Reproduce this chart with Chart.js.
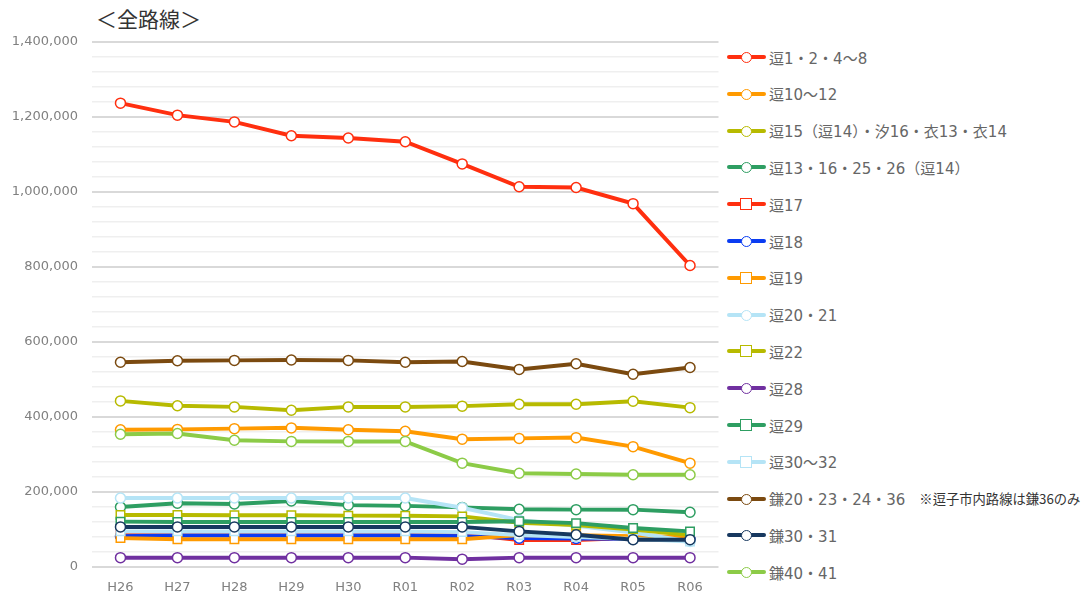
<!DOCTYPE html>
<html lang="ja">
<head>
<meta charset="utf-8">
<script src="https://cdn.jsdelivr.net/npm/chart.js@4.4.1/dist/chart.umd.min.js"></script>
<style>
  html, body { margin: 0; padding: 0; background: #fff; }
  body { width: 1081px; height: 595px; position: relative; overflow: hidden;
         font-family: "Noto Sans CJK JP", "Noto Sans", sans-serif; }
  #title { position: absolute; left: 96px; top: 3px; font-size: 21px; color: #333; }
  #wrap { position: absolute; left: 0; top: 0; width: 726px; height: 595px; }
  #legend { position: absolute; left: 727px; top: 0; width: 354px; }
  .item { position: absolute; left: 0; height: 20px; display: flex; align-items: center;
          font-size: 15px; color: #666; white-space: nowrap;
          font-family: "DejaVu Sans", "Noto Sans CJK JP", sans-serif; }
  .key { position: relative; width: 40px; height: 20px; margin-right: 2px; }
  .key .ln { position: absolute; left: 0; top: 8px; width: 39px; height: 4px; border-radius: 2px; }
  .key .mk { position: absolute; background: #fff; box-sizing: border-box; border-width: 1.5px; border-style: solid; }
  .note { margin-left: 14px; color: #333; font-size: 13.3px; font-family: "Noto Sans CJK JP", sans-serif; }
</style>
</head>
<body>
<div id="title">＜全路線＞</div>
<div id="wrap"><canvas id="chart"></canvas></div>
<div id="legend"></div>
<script>
// ─── DATA ───
const years = ['H26', 'H27', 'H28', 'H29', 'H30', 'R01', 'R02', 'R03', 'R04', 'R05', 'R06'];
const yTicks = [0, 200000, 400000, 600000, 800000, 1000000, 1200000, 1400000];

const zushi1 = [1237000, 1205000, 1187000, 1150000, 1144000, 1134000, 1075000, 1014000, 1012000, 969000, 804000];
const zushi10 = [366000, 367000, 369000, 371000, 366000, 362000, 341000, 343000, 345000, 321000, 277000];
const zushi15 = [443000, 430000, 427000, 418000, 427000, 427000, 429000, 434000, 434000, 442000, 425000];
const zushi13 = [160000, 170000, 168000, 176000, 165000, 163000, 159000, 154000, 153000, 153000, 146000];
const zushi17 = [88000, 89000, 89000, 89000, 89000, 89000, 88000, 72000, 72000, 78000, 76000];
const zushi18 = [82000, 84000, 84000, 84000, 84000, 84000, 82000, 77000, 76000, 75000, 74000];
const zushi19 = [77000, 74000, 74000, 74000, 74000, 74000, 74000, 85000, 85000, 82000, 80000];
const zushi20 = [184000, 184000, 184000, 184000, 184000, 184000, 158000, 125000, 110000, 92000, 68000];
const zushi22 = [139000, 139000, 138000, 138000, 137000, 137000, 135000, 118000, 112000, 100000, 85000];
const zushi28 = [25000, 25000, 25000, 25000, 25000, 25000, 21000, 25000, 25000, 25000, 25000];
const zushi29 = [121000, 120000, 120000, 120000, 120000, 120000, 120000, 122000, 117000, 104000, 95000];
const zushi30 = [95000, 95000, 95000, 95000, 95000, 95000, 93000, 85000, 80000, 75000, 68000];
const kama20 = [546000, 550000, 551000, 552000, 551000, 546000, 548000, 527000, 542000, 514000, 532000];
const kama30 = [107000, 107000, 107000, 107000, 107000, 107000, 107000, 95000, 86000, 73000, 73000];
const kama40 = [354000, 356000, 338000, 335000, 335000, 335000, 277000, 250000, 248000, 246000, 246000];

const series = [
    { name: '逗1・2・4〜8', data: zushi1, color: '#FF2F0F', shape: 'circle' },
    { name: '逗10〜12', data: zushi10, color: '#FF9A00', shape: 'circle' },
    { name: '逗15（逗14）・汐16・衣13・衣14', data: zushi15, color: '#B7BA00', shape: 'circle' },
    { name: '逗13・16・25・26（逗14）', data: zushi13, color: '#2E9E62', shape: 'circle' },
    { name: '逗17', data: zushi17, color: '#FF2F0F', shape: 'rect' },
    { name: '逗18', data: zushi18, color: '#0A3CF2', shape: 'circle' },
    { name: '逗19', data: zushi19, color: '#FF9A00', shape: 'rect' },
    { name: '逗20・21', data: zushi20, color: '#B5E4F6', shape: 'circle' },
    { name: '逗22', data: zushi22, color: '#B7BA00', shape: 'rect' },
    { name: '逗28', data: zushi28, color: '#7030A0', shape: 'circle' },
    { name: '逗29', data: zushi29, color: '#2E9E62', shape: 'rect' },
    { name: '逗30〜32', data: zushi30, color: '#B5E4F6', shape: 'rect' },
    { name: '鎌20・23・24・36', data: kama20, color: '#7B4A10', shape: 'circle', note: '※逗子市内路線は鎌36のみ' },
    { name: '鎌30・31', data: kama30, color: '#17385F', shape: 'circle' },
    { name: '鎌40・41', data: kama40, color: '#8CCB47', shape: 'circle' },
];

// ─── CHART ───
const n = series.length;
const datasets = series.map((s, i) => ({
    label: s.name,
    data: s.data,
    borderColor: s.color,
    backgroundColor: '#fff',
    borderWidth: 4,
    pointStyle: s.shape,
    pointRadius: s.shape === 'rect' ? 6 : 5,
    pointBorderWidth: 1.5,
    pointBorderColor: s.color,
    pointBackgroundColor: '#fff',
    tension: 0,
    order: n - i, // later series drawn on top, like the original
}));

const tickFont = { size: 13, family: 'DejaVu Sans' };

new Chart(document.getElementById('chart'), {
    type: 'line',
    data: { labels: years, datasets },
    options: {
        responsive: true,
        maintainAspectRatio: false,
        animation: false,
        layout: { padding: { top: 42, right: 3, left: 0, bottom: 0 } },
        plugins: { legend: { display: false }, tooltip: { enabled: false } },
        scales: {
            x: {
                offset: true,
                afterFit: s => { s.height = 28; },
                grid: { display: false },
                border: { display: false },
                ticks: { color: '#808080', padding: 5, font: tickFont },
            },
            y: {
                min: 0,
                max: 1400000,
                afterFit: s => { s.width = 92; },
                border: { display: false },
                grid: {
                    drawTicks: false,
                    color: ctx => yTicks.includes(ctx.tick.value) ? '#d9d9d9' : '#efefef',
                    lineWidth: ctx => yTicks.includes(ctx.tick.value) ? 2 : 1.5,
                },
                ticks: {
                    stepSize: 40000,
                    autoSkip: false,
                    padding: 14,
                    color: '#808080',
                    font: tickFont,
                    callback: v => yTicks.includes(v) ? v.toLocaleString('en-US') : '',
                },
            },
        },
    },
});

// ─── LEGEND ───
const legend = document.getElementById('legend');
series.forEach((s, i) => {
    const item = document.createElement('div');
    item.className = 'item';
    item.style.top = (47 + i * 36.8) + 'px';
    const key = document.createElement('span');
    key.className = 'key';
    const ln = document.createElement('span');
    ln.className = 'ln';
    ln.style.background = s.color;
    const mk = document.createElement('span');
    mk.className = 'mk';
    mk.style.borderColor = s.color;
    if (s.shape === 'rect') {
        mk.style.left = '13px'; mk.style.top = '4px'; mk.style.width = '12px'; mk.style.height = '12px';
    } else {
        mk.style.left = '14px'; mk.style.top = '5px'; mk.style.width = '11px'; mk.style.height = '11px';
        mk.style.borderRadius = '50%';
    }
    key.appendChild(ln);
    key.appendChild(mk);
    item.appendChild(key);
    const txt = document.createElement('span');
    txt.textContent = s.name;
    item.appendChild(txt);
    if (s.note) {
        const note = document.createElement('span');
        note.className = 'note';
        note.textContent = s.note;
        item.appendChild(note);
    }
    legend.appendChild(item);
});
</script>
</body>
</html>
